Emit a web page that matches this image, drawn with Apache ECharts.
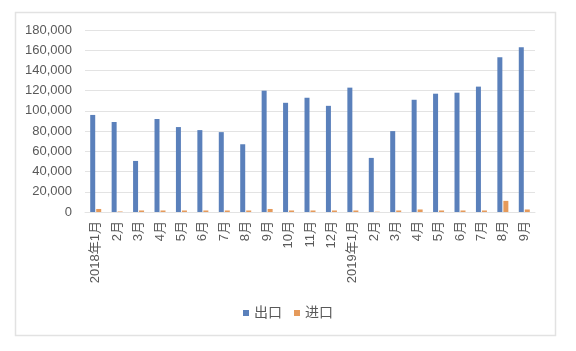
<!DOCTYPE html>
<html>
<head>
<meta charset="utf-8">
<script src="https://cdn.jsdelivr.net/npm/echarts@6/dist/echarts.min.js"></script>
<style>
  html, body {margin: 0; padding: 0; background: #fff;}
  #chart {width: 576px; height: 351px;}
</style>
</head>
<body>
<div id="chart"></div>
<script>
const months = ["2018年1月", "2月", "3月", "4月", "5月", "6月", "7月", "8月", "9月", "10月", "11月", "12月",
  "2019年1月", "2月", "3月", "4月", "5月", "6月", "7月", "8月", "9月"];
const exportValues = [96000, 89000, 50500, 92000, 84000, 81000, 79000, 67000, 120000, 108000, 113000, 105000,
  123000, 53500, 80000, 111000, 117000, 118000, 124000, 153000, 163000];
const importValues = [3000, 500, 1500, 1500, 1500, 1500, 1500, 1500, 3000, 1500, 1500, 1500,
  1500, 300, 1500, 2500, 1500, 1500, 1500, 11000, 2500];

const FONT = "'Liberation Sans', Arial, 'Noto Sans CJK SC', sans-serif";
const GRID_COLOR = "#e3e3e3";

const chart = echarts.init(document.getElementById("chart"), null, {renderer: "canvas"});
chart.setOption({
  animation: false,
  textStyle: {fontFamily: FONT},
  graphic: [{
    type: "rect",
    left: 13, top: 10,
    shape: {width: 540, height: 323},
    style: {fill: "none", stroke: "#e2e2e2", lineWidth: 1.5},
    silent: true,
  }],
  legend: {
    top: 301,
    left: "center",
    itemWidth: 6,
    itemHeight: 6,
    itemGap: 12,
    icon: "rect",
    textStyle: {color: "#595959", fontSize: 14, fontFamily: FONT},
    data: ["出口", "进口"],
  },
  grid: {left: 85, right: 41, top: 30, bottom: 139},
  xAxis: {
    type: "category",
    data: months,
    axisLine: {lineStyle: {color: GRID_COLOR}},
    axisTick: {show: false},
    axisLabel: {rotate: 90, color: "#595959", fontSize: 13, margin: 9, interval: 0, fontFamily: FONT},
  },
  yAxis: {
    type: "value",
    min: 0,
    max: 180000,
    interval: 20000,
    axisLine: {show: false},
    axisTick: {show: false},
    splitLine: {lineStyle: {color: GRID_COLOR}},
    axisLabel: {
      color: "#595959",
      fontSize: 13,
      margin: 13,
      fontFamily: FONT,
      formatter: value => value.toLocaleString("en-US"),
    },
  },
  series: [
    {name: "出口", type: "bar", data: exportValues, barWidth: 5, barGap: "20%", itemStyle: {color: "#5a80bb"}},
    {name: "进口", type: "bar", data: importValues, barWidth: 5, itemStyle: {color: "#e59a5b"}},
  ],
});
</script>
</body>
</html>
